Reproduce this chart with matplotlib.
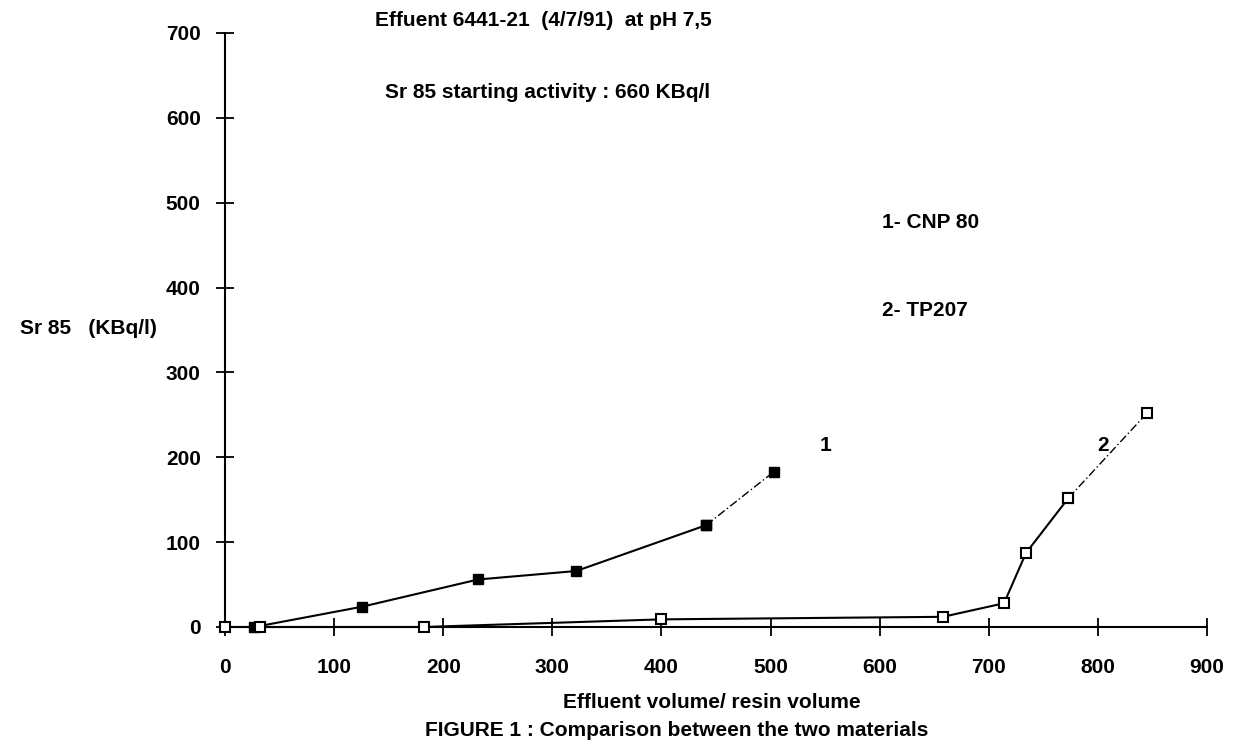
import matplotlib.pyplot as plt

# series 1 : CNP 80 (filled squares)
x1 = [27, 126, 232, 322, 441, 503]
y1 = [0, 24, 56, 66, 120, 183]
# series 2 : TP207 (open squares)
x2 = [0, 32, 182, 400, 658, 714, 734, 773, 845]
y2 = [0, 0, 0, 9, 12, 28, 87, 152, 252]

xticks = [0, 100, 200, 300, 400, 500, 600, 700, 800, 900]
yticks = [0, 100, 200, 300, 400, 500, 600, 700]

plt.rcParams["font.family"] = ["Liberation Sans", "DejaVu Sans"]
plt.rcParams["font.weight"] = "bold"
plt.rcParams["font.size"] = 15

W, H = 1237, 746
fig = plt.figure(figsize=(W / 100, H / 100), dpi=100)
ax = fig.add_axes([225 / W, 1 - 627 / H, 982 / W, 594 / H])

# main runs solid, last segment thin dash-dot
ax.plot(x1[:-1], y1[:-1], color="black", lw=1.5, marker="s", ms=6.5,
        mfc="black", mec="black", clip_on=False, zorder=3)
ax.plot(x1[-2:], y1[-2:], color="black", lw=1.0, ls=(0, (6, 2, 1, 2)),
        marker="s", ms=6.5, mfc="black", mec="black", clip_on=False, zorder=3)
ax.plot(x2[:-1], y2[:-1], color="black", lw=1.5, marker="s", ms=6.5,
        mfc="white", mec="black", mew=1.5, clip_on=False, zorder=4)
ax.plot(x2[-2:], y2[-2:], color="black", lw=1.0, ls=(0, (6, 2, 1, 2)),
        marker="s", ms=6.5, mfc="white", mec="black", mew=1.5, clip_on=False, zorder=4)

ax.set_xlim(0, 900)
ax.set_ylim(0, 700)
ax.set_xticks(xticks)
ax.set_yticks(yticks)
for s in ["top", "right"]:
    ax.spines[s].set_visible(False)
ax.spines["left"].set_linewidth(1.5)
ax.spines["bottom"].set_linewidth(1.5)
ax.tick_params(axis="both", direction="inout", length=13, width=1.3)
ax.tick_params(axis="x", pad=16)
ax.tick_params(axis="y", pad=11)

ax.text(550, 214, "1", ha="center", va="center")
ax.text(805, 214, "2", ha="center", va="center")

def ftext(px, py, s, **kw):
    fig.text(px / W, 1 - py / H, s, va="center", **kw)

ftext(375, 20, "Effuent 6441-21  (4/7/91)  at pH 7,5")
ftext(385, 92, "Sr 85 starting activity : 660 KBq/l")
ftext(882, 222, "1- CNP 80")
ftext(882, 311, "2- TP207")
ftext(20, 328, "Sr 85   (KBq/l)")
ftext(563, 703, "Effluent volume/ resin volume")
ftext(425, 730, "FIGURE 1 : Comparison between the two materials")

fig.savefig("out.png", dpi=100)
